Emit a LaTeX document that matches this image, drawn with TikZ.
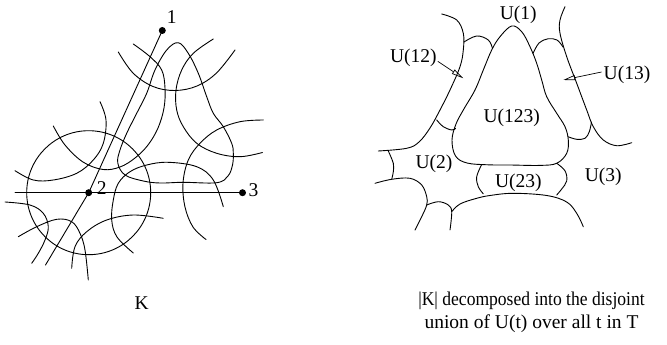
\documentclass[tikz,border=0pt]{standalone}
\usepackage{fontspec}
\setmainfont{Liberation Serif}
\usetikzlibrary{arrows.meta}
\tikzset{
  curve/.style={line width=0.9pt, line join=round, line cap=round},
  dot/.style={circle, fill=black, inner sep=0pt, minimum size=7pt},
  lbl/.style={inner sep=0pt, font=\fontsize{19.5}{23}\selectfont},
  pointer/.style={line width=0.7pt, -{Triangle[open, length=12pt, width=5pt]}}
}
\begin{document}
\begin{tikzpicture}[x=1pt, y=-1pt]
\useasboundingbox (0,0) rectangle (667,345);

% ---------------- left figure ----------------
\node[dot] (p1) at (162.3,30.5) {};
\node[dot] (p2) at (88.7,192.7) {};
\node[dot] (p3) at (242.5,192.7) {};
\coordinate (e12) at (45.5,265);
\coordinate (e2l) at (15,192.7);
\draw[curve] (p1.center) -- (p2.center) -- (e12);
\draw[curve] (e2l) -- (p3.center);

\node[lbl] (n1) at (171.7,17) {1};
\node[lbl] (n2) at (101.7,188) {2};
\node[lbl] (n3) at (253.5,190.5) {3};

% circle around 1
\draw[curve] plot[smooth, tension=0.6] coordinates {(118.3,52) (133,73) (153,86.5) (175,90.5) (197,86) (216.5,73) (235,50)};
% tube arc left of edge 12
\draw[curve] plot[smooth, tension=0.6] coordinates {(133.3,44) (150,56.7) (161.7,70) (165,88) (164,108) (158,128) (148,145) (135,158) (120,167) (103,169.5) (83,162) (65,145) (53.3,126)};
% triangle loop
\draw[curve] plot[smooth cycle, tension=0.6] coordinates {(178.3,42.7) (166.7,50) (155,70) (146.7,93.3) (136.7,113.3) (126.7,133.3) (120,150) (117.8,163) (125,175) (143.3,181) (160,183) (183.3,182.3) (216.7,182.7) (228,176) (232.5,165) (233.3,153.3) (231.7,143.3) (223.3,126.7) (213.3,113.3) (206.7,96.7) (198.3,73.3) (188.3,53.3)};
% tube arc of edge 13
\draw[curve] plot[smooth, tension=0.6] coordinates {(213.3,39) (193.3,53.3) (181.7,70) (176,90) (176.7,110) (183.3,126.7) (196.7,143.3) (216.7,153.3) (240,156.7) (262.5,152.5)};
% circle around 3
\draw[curve] plot[smooth, tension=0.6] coordinates {(263.3,120) (240,121.7) (216.7,130) (200,143.3) (188.3,160) (183,183) (185,207) (193,227) (206,239.5)};
% circle around 2
\draw[curve] (p2.center) circle[radius=62];
% arc A
\draw[curve] plot[smooth, tension=0.6] coordinates {(100,101.7) (106,120) (103.3,143.3) (93.3,160) (76.7,173.3) (53.3,180) (33.3,180) (15,170.7)};
% upper arc of edge 23
\draw[curve] plot[smooth, tension=0.6] coordinates {(133.3,253) (117,237) (111.7,220) (113.3,200) (118.3,183.3) (130,171.7) (146.7,165) (168,162.3) (196.7,166.7) (213.3,180) (223.3,206.7)};
% lower-left arcs
\draw[curve] plot[smooth, tension=0.6] coordinates {(5,202) (30,205) (43.3,213.3) (48.3,226.7) (45,240) (38.3,253.3) (31.7,263.3)};
\draw[curve] plot[smooth, tension=0.6] coordinates {(18.3,236.7) (36.7,226.7) (56.7,219.3) (71.7,221.7) (80,233.3) (85,250) (88.3,280)};
\draw[curve] plot[smooth, tension=0.6] coordinates {(71.7,268.3) (75,246.7) (86.7,231.7) (106.7,220) (133.3,215) (163.3,218.3)};

\node[lbl] (k) at (141.7,303.3) {K};

% ---------------- right figure ----------------
% outer top-left curve
\draw[curve] plot[smooth, tension=0.6] coordinates {(441.7,14) (456.7,20) (463.3,33.3) (463.3,50) (460,66.7) (450,90) (440,110) (430,128) (419,142) (406.7,148.3) (378.3,151)};
% U(12) caps
\draw[curve] plot[smooth, tension=0.6] coordinates {(464,42) (476.7,36) (488.3,40) (492.5,48.5)};
\draw[curve] plot[smooth, tension=0.6] coordinates {(436.7,120) (443.3,126.7) (451.7,130) (455.5,128.5)};
% triangle U(123)
\draw[curve] plot[smooth cycle, tension=0.6] coordinates {(511.7,26) (500,36.7) (491.7,50) (483.3,70) (475,90) (463.3,110) (456,124) (452,140) (455.5,156) (467,163) (488,164.8) (510,165) (540,165.4) (556.7,163.3) (566.7,153.3) (568.3,140) (565,126.7) (556.7,113.3) (546.7,96.7) (541.7,80) (536.7,63.3) (530,46.7) (521.7,31.7)};
% U(2) boundaries
\draw[curve] plot[smooth, tension=0.6] coordinates {(388.3,151) (393.3,163.3) (393.3,171.7) (391.7,179.3)};
\draw[curve] plot[smooth, tension=0.6] coordinates {(375,183.3) (391.7,179.3) (410,178.3) (421.7,185) (426.7,196.7) (426.7,205) (421.7,216.7) (415,230)};
\draw[curve] plot[smooth, tension=0.6] coordinates {(426.7,205) (438.3,201.7) (448.3,205) (451.7,211.7) (450,230)};
% lower big curve
\draw[curve] plot[smooth, tension=0.6] coordinates {(451.7,211.7) (460,204) (476,198.5) (490,195.5) (513.3,193.3) (546.7,195.5) (566.7,202) (576.7,213.3) (583.3,226.7)};
% U(23) sides
\draw[curve] plot[smooth, tension=0.6] coordinates {(481.7,164.5) (476.7,176.7) (478.3,186.7) (483.3,193.8)};
\draw[curve] plot[smooth, tension=0.6] coordinates {(556.7,163.3) (565,170.8) (566.7,181) (561.7,189) (556.7,195)};
% outer right curve
\draw[curve] plot[smooth, tension=0.6] coordinates {(565,6.7) (560,20) (560,33.3) (566.7,56.7) (576.7,83.3) (586.7,110) (593.3,126.7) (603.3,140) (616.7,145.7) (631.7,142.7)};
% U(13) caps
\draw[curve] plot[smooth, tension=0.6] coordinates {(533,53.5) (539,43) (548,38.8) (557,40) (563,47)};
\draw[curve] plot[smooth, tension=0.6] coordinates {(568,136.7) (576.7,139.3) (585,138.3) (589.3,131.7) (591.5,122)};

% labels
\node[lbl] (u1) at (518.3,15) {U(1)};
\node[lbl] (u12) at (413.3,58.3) {U(12)};
\node[lbl] (u13) at (627,75) {U(13)};
\node[lbl] (u123) at (511.7,118.3) {U(123)};
\node[lbl] (u2) at (434,164) {U(2)};
\node[lbl] (u23) at (518.3,183.3) {U(23)};
\node[lbl] (u3) at (603.3,176.7) {U(3)};
\coordinate (t12) at (463.3,78.3);
\coordinate (t13) at (563.3,80);
\draw[pointer] (u12.east) ++(1,3) coordinate (s12) (s12) -- (t12);
\draw[pointer] (u13.west) ++(-2,-3) coordinate (s13) (s13) -- (t13);

\node[lbl] (cap1) at (531.5,301) {\scalebox{0.9}[1]{|K| decomposed into the disjoint}};
\node[lbl] (cap2) at (531.5,324) {union of U(t) over all t in T};
\end{tikzpicture}
\end{document}
